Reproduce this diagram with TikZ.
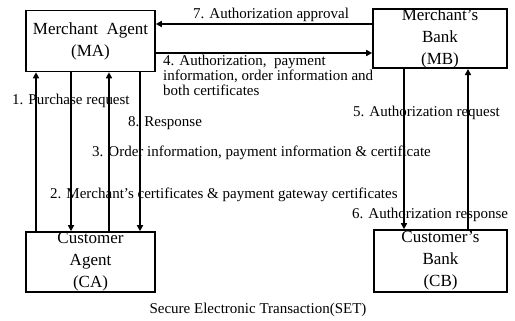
\documentclass[tikz,border=0pt]{standalone}
\usepackage{fontspec}
\setmainfont{Liberation Serif}
\usetikzlibrary{arrows.meta}
\begin{document}
\begin{tikzpicture}[x=1pt,y=-1pt,
  box/.style={draw,line width=1.6pt,inner sep=0pt,align=center,
    font=\fontsize{17}{22}\selectfont},
  lbl/.style={inner sep=0pt,anchor=west,font=\fontsize{15}{15}\selectfont},
  conn/.style={line width=1.6pt},
  arr/.style={conn,-{Triangle[length=6pt,width=6pt]}}]
\useasboundingbox (0,0) rectangle (515,321);
% boxes
\node[box,minimum width=129pt,minimum height=61pt] (MA) at (90.5,41) {Merchant\ \ Agent\\(MA)};
\node[box,minimum width=134pt,minimum height=59pt] (MB) at (440,38.5) {Merchant's\\Bank\\(MB)};
\node[box,minimum width=129pt,minimum height=60pt] (CA) at (90.5,262) {Customer\\Agent\\(CA)};
\node[box,minimum width=133pt,minimum height=62pt] (CB) at (440.5,261) {Customer's\\Bank\\(CB)};
% column coordinates
\coordinate (c1) at (36,0);
\coordinate (c2) at (71,0);
\coordinate (c3) at (109,0);
\coordinate (c4) at (140,0);
\coordinate (c5) at (404,0);
\coordinate (c6) at (468,0);
\coordinate (r7) at (0,24);
\coordinate (r4) at (0,53);
% connectors
\draw[arr] (CA.north -| c1) -- (MA.south -| c1);
\draw[arr] (MA.south -| c2) -- (CA.north -| c2);
\draw[arr] (CA.north -| c3) -- (MA.south -| c3);
\draw[arr] (MA.south -| c4) -- (CA.north -| c4);
\draw[arr] (MB.south -| c5) -- (CB.north -| c5);
\draw[arr] (CB.north -| c6) -- (MB.south -| c6);
\draw[arr] (MB.west |- r7) -- (MA.east |- r7);
\draw[arr] (MA.east |- r4) -- (MB.west |- r4);
% labels
\node[lbl] (l7) at (193,15) {7. Authorization approval};
\node[lbl,anchor=north west,align=left] (l4) at (163,55) {4. Authorization,\ \ payment\\information, order information and\\both certificates};
\node[lbl] (l1) at (12,101) {1. Purchase request};
\node[lbl] (l8) at (128,123) {8. Response};
\node[lbl] (l5) at (353,113) {5. Authorization request};
\node[lbl] (l3) at (92,153) {3. Order information, payment information \& certificate};
\node[lbl] (l2) at (50,195) {2. Merchant's certificates \& payment gateway certificates};
\node[lbl] (l6) at (352,215) {6. Authorization response};
\node[inner sep=0pt,font=\fontsize{15}{15}\selectfont] (cap) at (258,310) {Secure Electronic Transaction(SET)};
\end{tikzpicture}
\end{document}
